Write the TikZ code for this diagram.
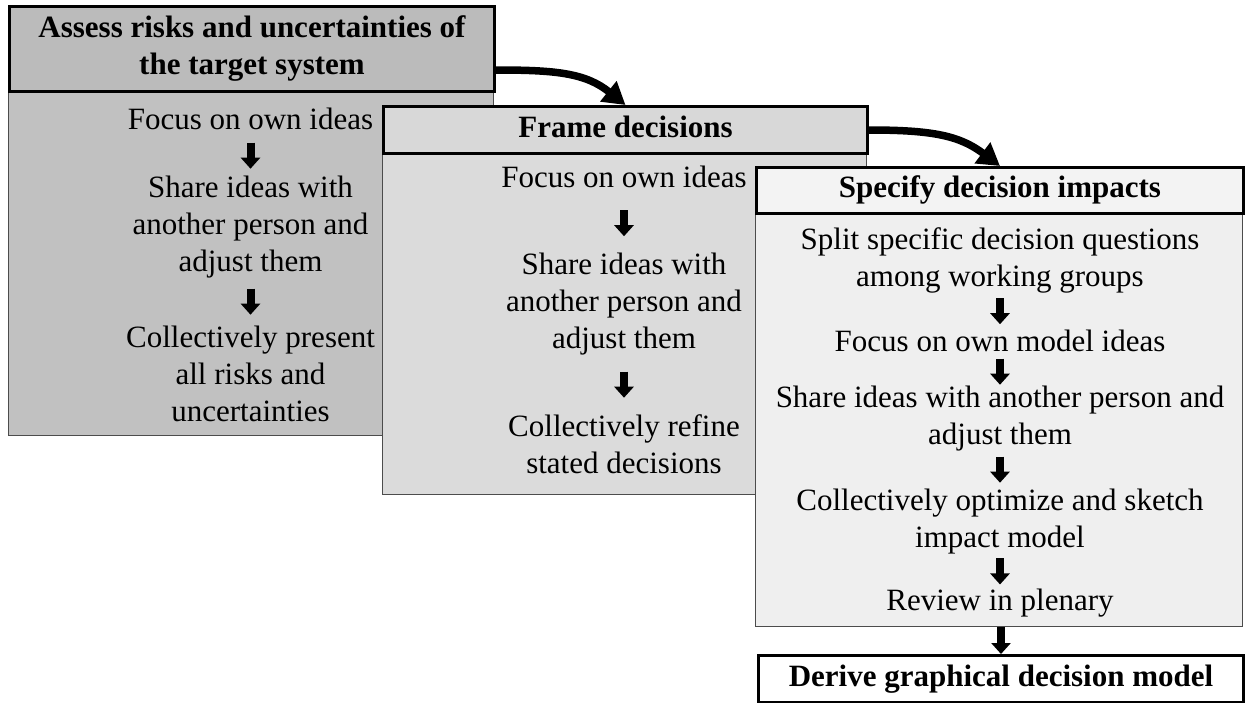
\documentclass[tikz,border=0pt]{standalone}
\usepackage{fontspec}
\setmainfont{Liberation Serif}
\usetikzlibrary{arrows.meta,calc}
\definecolor{hOne}{HTML}{BBBBBB}
\definecolor{bOne}{HTML}{C1C1C1}
\definecolor{hTwo}{HTML}{D8D8D8}
\definecolor{bTwo}{HTML}{DBDBDB}
\definecolor{hThree}{HTML}{F3F3F3}
\definecolor{bThree}{HTML}{EFEFEF}
\begin{document}
\begin{tikzpicture}[x=1pt,y=-1pt,
  txt/.style={font=\fontsize{31}{37}\selectfont, align=center, inner sep=0pt, anchor=north},
  hdr/.style={draw=black, line width=3pt, inner sep=0pt, anchor=north west,
              font=\fontsize{31}{37}\selectfont\bfseries, align=center},
  bodybox/.style={draw=black!70, line width=1.2pt, inner sep=0pt, anchor=north west},
  downarr/.style={line width=8pt, -{Triangle[width=19pt,length=11pt]}},
  bigarr/.style={line width=7.5pt, -{Triangle[width=25pt,length=22pt]}}]

\useasboundingbox (0,0) rectangle (1247,702);

% ---------- panel 1
\node[bodybox, fill=bOne, minimum width=485pt, minimum height=345pt] (b1) at (8,90) {};
\node[hdr, fill=hOne, minimum width=485pt, minimum height=85pt] (h1) at (8,5)
  {\strut Assess risks and uncertainties of\\\strut the target system};
\node[txt] (p1a) at (250.5,103) {\strut Focus on own ideas};
\node[txt] (p1b) at (250.5,171) {\strut Share ideas with\\\strut another person and\\\strut adjust them};
\node[txt] (p1c) at (250.5,321) {\strut Collectively present\\\strut all risks and\\\strut uncertainties};
\draw[downarr] ($(p1a.south)!0.5!(p1b.north)$) ++(0,-13) -- ++(0,26);
\draw[downarr] ($(p1b.south)!0.5!(p1c.north)$) ++(0,-13) -- ++(0,26);

% ---------- panel 2
\node[bodybox, fill=bTwo, minimum width=484pt, minimum height=342pt] (b2) at (382,152) {};
\node[hdr, fill=hTwo, minimum width=484pt, minimum height=47pt] (h2) at (382,105)
  {\strut Frame decisions};
\node[txt] (p2a) at (624,161) {\strut Focus on own ideas};
\node[txt] (p2b) at (624,248) {\strut Share ideas with\\\strut another person and\\\strut adjust them};
\node[txt] (p2c) at (624,410) {\strut Collectively refine\\\strut stated decisions};
\draw[downarr] ($(p2a.south)!0.5!(p2b.north)$) ++(0,-13) -- ++(0,26);
\draw[downarr] ($(p2b.south)!0.5!(p2c.north)$) ++(0,-13) -- ++(0,26);

% ---------- panel 3
\node[bodybox, fill=bThree, minimum width=487pt, minimum height=414pt] (b3) at (755,212) {};
\node[hdr, fill=hThree, minimum width=487pt, minimum height=46pt] (h3) at (755,166)
  {\strut Specify decision impacts};
\node[txt] (p3a) at (1000,223) {\strut Split specific decision questions\\\strut among working groups};
\node[txt] (p3b) at (1000,325) {\strut Focus on own model ideas};
\node[txt] (p3c) at (1000,381) {\strut Share ideas with another person and\\\strut adjust them};
\node[txt] (p3d) at (1000,484) {\strut Collectively optimize and sketch\\\strut impact model};
\node[txt] (p3e) at (1000,584.5) {\strut Review in plenary};
\draw[downarr] ($(p3a.south)!0.5!(p3b.north)$) ++(0,-13) -- ++(0,26);
\draw[downarr] ($(p3b.south)!0.5!(p3c.north)$) ++(0,-13) -- ++(0,26);
\draw[downarr] ($(p3c.south)!0.5!(p3d.north)$) ++(0,-13) -- ++(0,26);
\draw[downarr] ($(p3d.south)!0.5!(p3e.north)$) ++(0,-13) -- ++(0,26);

% ---------- final box
\node[hdr, fill=white, minimum width=485pt, minimum height=47pt] (fin) at (757,654)
  {\strut Derive graphical decision model};
\draw[downarr] (fin.north |- b3.south) -- (fin.north);

% ---------- big curved arrows
\draw[bigarr] ($(h1.south east)+(0,-23)$) .. controls +(60,0) and +(-40,-32) .. (h2.north);
\draw[bigarr] (h2.east) .. controls +(65,0) and +(-40,-30) .. (h3.north);
\end{tikzpicture}
\end{document}
